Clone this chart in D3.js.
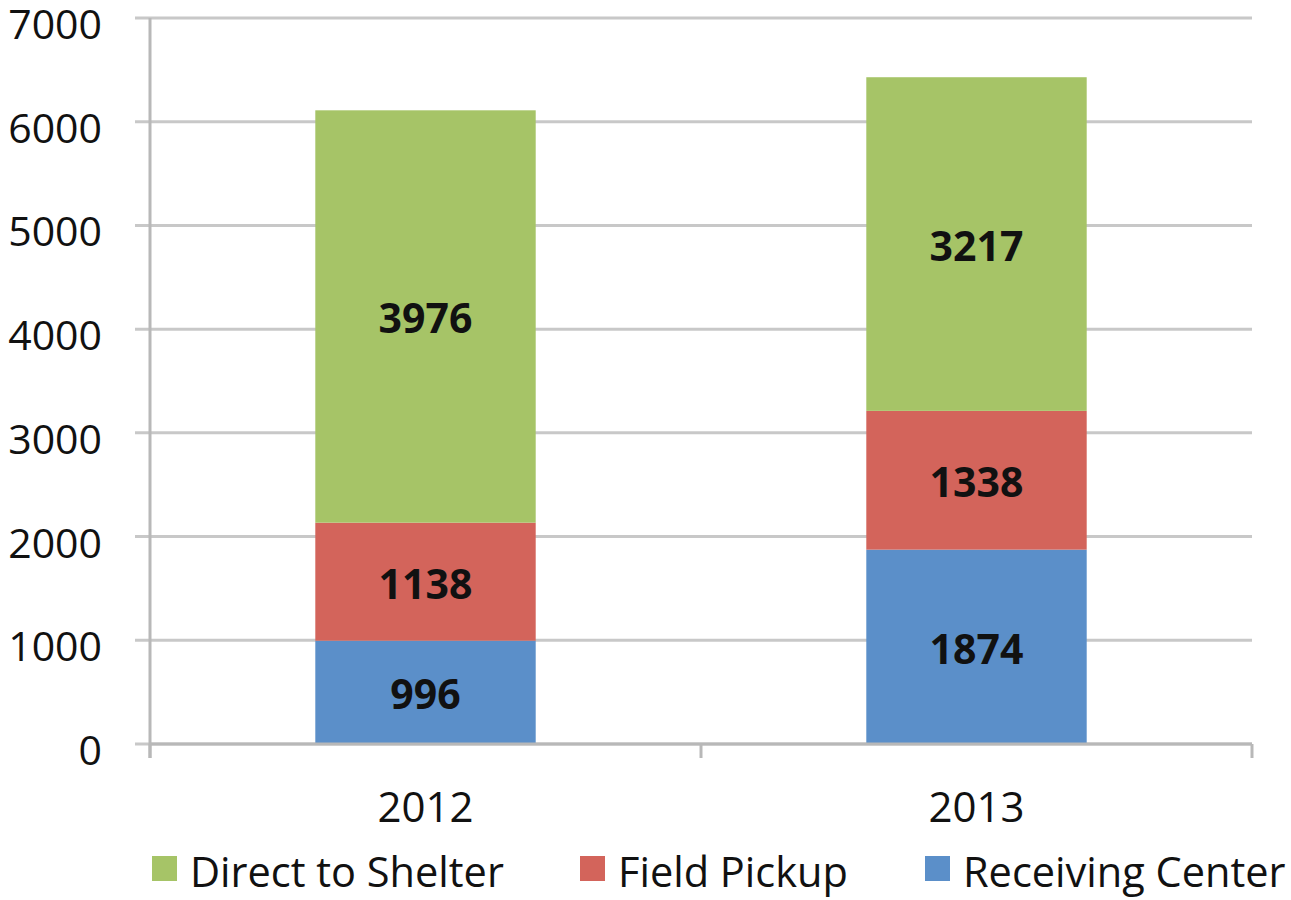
<!DOCTYPE html>
<html><head><meta charset="utf-8">
<script src="https://cdn.jsdelivr.net/npm/d3@7"></script>
<style>body{margin:0;background:#fff}svg{display:block}</style>
</head><body>
<svg id="c" width="1291" height="900"></svg>
<script>
const categories = ["2012", "2013"];
const seriesNames = ["Receiving Center", "Field Pickup", "Direct to Shelter"];
const receivingCenter = [996, 1874];
const fieldPickup = [1138, 1338];
const directToShelter = [3976, 3217];
const yTicks = [0, 1000, 2000, 3000, 4000, 5000, 6000, 7000];
const colors = ["#5b8fc9", "#d3645b", "#a6c467"];
const legendOrder = ["Direct to Shelter", "Field Pickup", "Receiving Center"];

(function () {
const rows = categories.map((c, i) => ({
  cat: c,
  "Receiving Center": receivingCenter[i],
  "Field Pickup": fieldPickup[i],
  "Direct to Shelter": directToShelter[i]
}));
const stacked = d3.stack().keys(seriesNames)(rows);

const svg = d3.select("#c");
const font = "'Open Sans', 'Noto Sans', sans-serif";
const mLeft = 150, mRight = 1252, mTop = 18, mBottom = 744;
const x = d3.scaleBand().domain(categories).range([mLeft, mRight]).paddingInner(0.6).paddingOuter(0.3);
const y = d3.scaleLinear().domain([0, 7000]).range([mBottom, mTop]);
const color = d3.scaleOrdinal().domain(seriesNames).range(colors);

svg.append("g").selectAll("line").data(yTicks).join("line")
  .attr("x1", 135).attr("x2", mRight)
  .attr("y1", d => y(d)).attr("y2", d => y(d))
  .attr("stroke", "#c8c8c8").attr("stroke-width", 3);

const g = svg.append("g");
stacked.forEach(s => {
  g.append("g").selectAll("rect").data(s).join("rect")
    .attr("x", d => x(d.data.cat))
    .attr("width", x.bandwidth())
    .attr("y", d => y(d[1]))
    .attr("height", d => y(d[0]) - y(d[1]))
    .attr("fill", color(s.key));
});
stacked.forEach(s => {
  g.append("g").selectAll("text").data(s).join("text")
    .attr("x", d => x(d.data.cat) + x.bandwidth() / 2)
    .attr("y", d => (y(d[0]) + y(d[1])) / 2 + 17)
    .attr("text-anchor", "middle")
    .attr("font-family", font).attr("font-weight", "bold").attr("font-size", 41)
    .attr("fill", "#111")
    .text(d => d[1] - d[0]);
});

svg.append("line").attr("x1", mLeft).attr("x2", mLeft).attr("y1", mTop).attr("y2", 758)
  .attr("stroke", "#b8b8b8").attr("stroke-width", 3);
svg.append("line").attr("x1", mLeft).attr("x2", mRight).attr("y1", mBottom).attr("y2", mBottom)
  .attr("stroke", "#b8b8b8").attr("stroke-width", 3);
const bounds = [mLeft, (mLeft + mRight) / 2, mRight];
svg.append("g").selectAll("line").data(bounds).join("line")
  .attr("x1", d => d).attr("x2", d => d).attr("y1", mBottom).attr("y2", 758)
  .attr("stroke", "#b8b8b8").attr("stroke-width", 3);

svg.append("g").selectAll("text").data(yTicks).join("text")
  .attr("x", 102).attr("y", d => y(d) + 21)
  .attr("text-anchor", "end")
  .attr("font-family", font).attr("font-size", 41).attr("fill", "#111")
  .text(d => d);

svg.append("g").selectAll("text").data(categories).join("text")
  .attr("x", d => x(d) + x.bandwidth() / 2).attr("y", 822)
  .attr("text-anchor", "middle")
  .attr("font-family", font).attr("font-size", 42).attr("fill", "#111")
  .text(d => d);

const legX = [152, 580, 925];
const leg = svg.append("g").selectAll("g").data(legendOrder).join("g")
  .attr("transform", (d, i) => `translate(${legX[i]},856)`);
leg.append("rect").attr("width", 25).attr("height", 25).attr("fill", d => color(d));
leg.append("text").attr("x", 38).attr("y", 31)
  .attr("font-family", font).attr("font-size", 41.5).attr("fill", "#111")
  .text(d => d);
})();
</script>
</body></html>
